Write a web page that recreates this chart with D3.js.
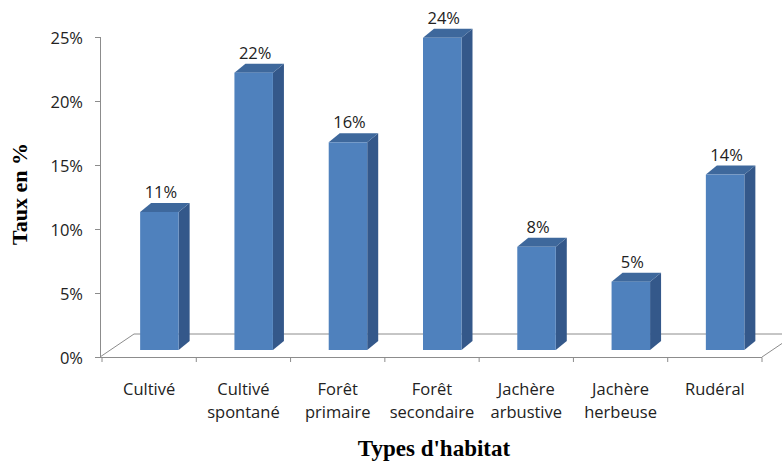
<!DOCTYPE html>
<html>
<head>
<meta charset="utf-8">
<script src="https://cdn.jsdelivr.net/npm/d3@7"></script>
<style>
  body { margin: 0; background: #fff; }
  svg { display: block; }
  .tick-label, .cat-label, .val-label { font-family: "Open Sans", Lato, sans-serif; fill: #222; }
  .title { font-family: "Liberation Serif", "DejaVu Serif", serif; font-weight: bold; fill: #000; }
</style>
</head>
<body>
<svg id="chart" width="782" height="461"></svg>
<script>
// data
const categories = ['Cultivé', 'Cultivé spontané', 'Forêt primaire', 'Forêt secondaire',
    'Jachère arbustive', 'Jachère herbeuse', 'Rudéral'];
const catLines = [['Cultivé'], ['Cultivé', 'spontané'], ['Forêt', 'primaire'], ['Forêt', 'secondaire'],
    ['Jachère', 'arbustive'], ['Jachère', 'herbeuse'], ['Rudéral']];
const values = [0.107, 0.215, 0.161, 0.242, 0.080, 0.053, 0.136];
const yTicks = [0, 0.05, 0.10, 0.15, 0.20, 0.25];

const svg = d3.select('#chart');
const pct = d3.format('.0%');

// front plane (axis) and bar plane
const yAxis = d3.scaleLinear().domain([0, 0.25]).range([357, 37]);
const yBar = d3.scaleLinear().domain([0, 0.25]).range([350, 27.5]);
const x = d3.scaleBand().domain(categories).range([102, 762]);

const depthX = 11, depthY = 9;   // 3d offset
const barW = 38.5;
const axisColor = '#8c8c8c';
const fontSize = '16.5px';

// floor
const floor = svg.append('g').attr('fill', 'none').attr('stroke', axisColor).attr('stroke-width', 1);
floor.append('line').attr('x1', 134).attr('y1', 334).attr('x2', 800).attr('y2', 334);
floor.append('line').attr('x1', 100).attr('y1', 357).attr('x2', 134).attr('y2', 334);
floor.append('line').attr('x1', 762).attr('y1', 357).attr('x2', 796).attr('y2', 334);
floor.append('line').attr('x1', 96).attr('y1', 357.5).attr('x2', 762).attr('y2', 357.5);

// category ticks
floor.selectAll('.ctick')
    .data(categories.concat(['end']))
    .enter()
    .append('line')
    .attr('x1', (d, i) => i < categories.length ? x(d) : x.range()[1])
    .attr('x2', (d, i) => i < categories.length ? x(d) : x.range()[1])
    .attr('y1', 357.5).attr('y2', 362);

// y axis
const ag = svg.append('g');
ag.append('line')
    .attr('x1', 100.5).attr('x2', 100.5)
    .attr('y1', yAxis(0.25)).attr('y2', yAxis(0))
    .attr('stroke', axisColor);
ag.selectAll('.ytick')
    .data(yTicks)
    .enter()
    .append('line')
    .attr('x1', 95).attr('x2', 100.5)
    .attr('y1', d => yAxis(d) + 0.5).attr('y2', d => yAxis(d) + 0.5)
    .attr('stroke', axisColor);
ag.selectAll('.tick-label')
    .data(yTicks)
    .enter()
    .append('text')
    .attr('class', 'tick-label')
    .attr('x', 83)
    .attr('y', d => yAxis(d))
    .attr('text-anchor', 'end')
    .attr('dominant-baseline', 'central')
    .attr('font-size', fontSize)
    .text(d => pct(d));

// bars
const bars = svg.append('g').selectAll('.bar')
    .data(categories)
    .enter()
    .append('g')
    .attr('class', 'bar');

const barLeft = d => x(d) + x.bandwidth() / 2 - 9;
const barTop = (d, i) => yBar(values[i]);
const barBottom = yBar(0);

// side face
bars.append('path')
    .attr('fill', '#34588a')
    .attr('d', (d, i) => {
        const r = barLeft(d) + barW, t = barTop(d, i);
        return `M${r},${t}L${r + depthX},${t - depthY}L${r + depthX},${barBottom - depthY}L${r},${barBottom}Z`;
    });
// top face
bars.append('path')
    .attr('fill', '#3e689c')
    .attr('d', (d, i) => {
        const l = barLeft(d), t = barTop(d, i);
        return `M${l},${t}L${l + depthX},${t - depthY}L${l + barW + depthX},${t - depthY}L${l + barW},${t}Z`;
    });
// front face
bars.append('rect')
    .attr('fill', '#4f81bd')
    .attr('x', d => barLeft(d))
    .attr('y', (d, i) => barTop(d, i))
    .attr('width', barW)
    .attr('height', (d, i) => barBottom - barTop(d, i));

// value labels
bars.append('text')
    .attr('class', 'val-label')
    .attr('x', d => barLeft(d) + (barW + depthX) / 2 - 4)
    .attr('y', (d, i) => barTop(d, i) - depthY - 5)
    .attr('text-anchor', 'middle')
    .attr('font-size', fontSize)
    .text((d, i) => pct(values[i]));

// category labels
const cl = svg.append('g').selectAll('.cat-label')
    .data(categories)
    .enter()
    .append('text')
    .attr('class', 'cat-label')
    .attr('text-anchor', 'middle')
    .attr('font-size', fontSize);
cl.selectAll('tspan')
    .data((d, i) => catLines[i].map(t => ({ t, c: d })))
    .enter()
    .append('tspan')
    .attr('x', d => x(d.c) + x.bandwidth() / 2)
    .attr('y', (d, j) => 395 + j * 23)
    .text(d => d.t);

// axis titles
svg.append('text')
    .attr('class', 'title')
    .attr('transform', 'translate(27,194) rotate(-90)')
    .attr('text-anchor', 'middle')
    .attr('font-size', '22px')
    .text('Taux en %');

svg.append('text')
    .attr('class', 'title')
    .attr('x', 434)
    .attr('y', 456)
    .attr('text-anchor', 'middle')
    .attr('font-size', '23px')
    .text("Types d'habitat");
</script>
</body>
</html>
